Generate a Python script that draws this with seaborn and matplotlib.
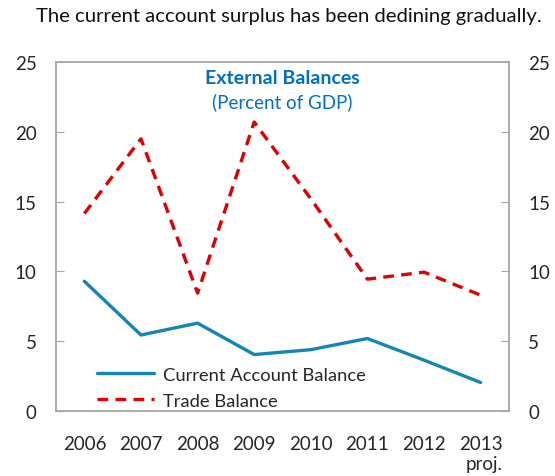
import matplotlib
matplotlib.use("Agg")
import matplotlib.pyplot as plt
import seaborn as sns
import pandas as pd
import numpy as np

years = ["2006", "2007", "2008", "2009", "2010", "2011", "2012", "2013\nproj."]
current_account = [9.3, 5.45, 6.3, 4.05, 4.4, 5.2, 3.65, 2.05]
trade_balance = [14.15, 19.5, 8.45, 20.7, 15.2, 9.45, 9.95, 8.3]
yticks = [0, 5, 10, 15, 20, 25]

sns.set_style("white")
plt.rcParams["font.family"] = ["Lato", "DejaVu Sans"]

fig = plt.figure(figsize=(5.55, 4.77), dpi=100)
ax = fig.add_axes([0.101, 0.136, 0.816, 0.732])

x = np.arange(len(years))
df = pd.DataFrame({"x": x, "ca": current_account, "tb": trade_balance})

sns.lineplot(data=df, x="x", y="ca", ax=ax, color="#1585B5", lw=2.4,
             label="Current Account Balance")
sns.lineplot(data=df, x="x", y="tb", ax=ax, color="#E00000", lw=2.4,
             label="Trade Balance")
ax.lines[1].set_dashes([3.2, 2.2])

ax.set_xlim(-0.5, len(years) - 0.5)
ax.set_ylim(0, 25)
ax.set_xlabel("")
ax.set_ylabel("")
ax.set_xticks(x)
ax.set_xticklabels(years, fontsize=13.5, linespacing=1.2)
for lab in ax.get_xticklabels():
    lab.set_multialignment("right")
ax.set_xticks(np.arange(0.5, len(years) - 0.5, 1), minor=True)
ax.tick_params(axis="x", which="major", length=0, pad=17)
ax.tick_params(axis="x", which="minor", direction="in", length=5, color="#A6A6A6", width=1)
ax.set_yticks(yticks)
ax.tick_params(axis="y", which="major", direction="in", length=6, color="#A6A6A6",
               left=True, right=True, labelleft=True, labelright=True,
               labelsize=13.5, pad=14)
for s in ax.spines.values():
    s.set_color("#A6A6A6")
    s.set_linewidth(1.3)

ax.text(0.5, 0.98, "External Balances", transform=ax.transAxes, ha="center", va="top",
        fontsize=14, fontweight="bold", color="#0070C0")
ax.text(0.5, 0.912, "(Percent of GDP)", transform=ax.transAxes, ha="center", va="top",
        fontsize=13.5, color="#0070C0")

leg = ax.legend(loc="lower left", bbox_to_anchor=(0.055, -0.04), frameon=False,
                fontsize=13.2, handlelength=3.1, handletextpad=0.45, labelspacing=0.55)

fig.text(0.52, 0.965, "The current account surplus has been dedining gradually.",
         ha="center", va="center", fontsize=14.6, color="#111111")

fig.savefig("out.png", dpi=100)
